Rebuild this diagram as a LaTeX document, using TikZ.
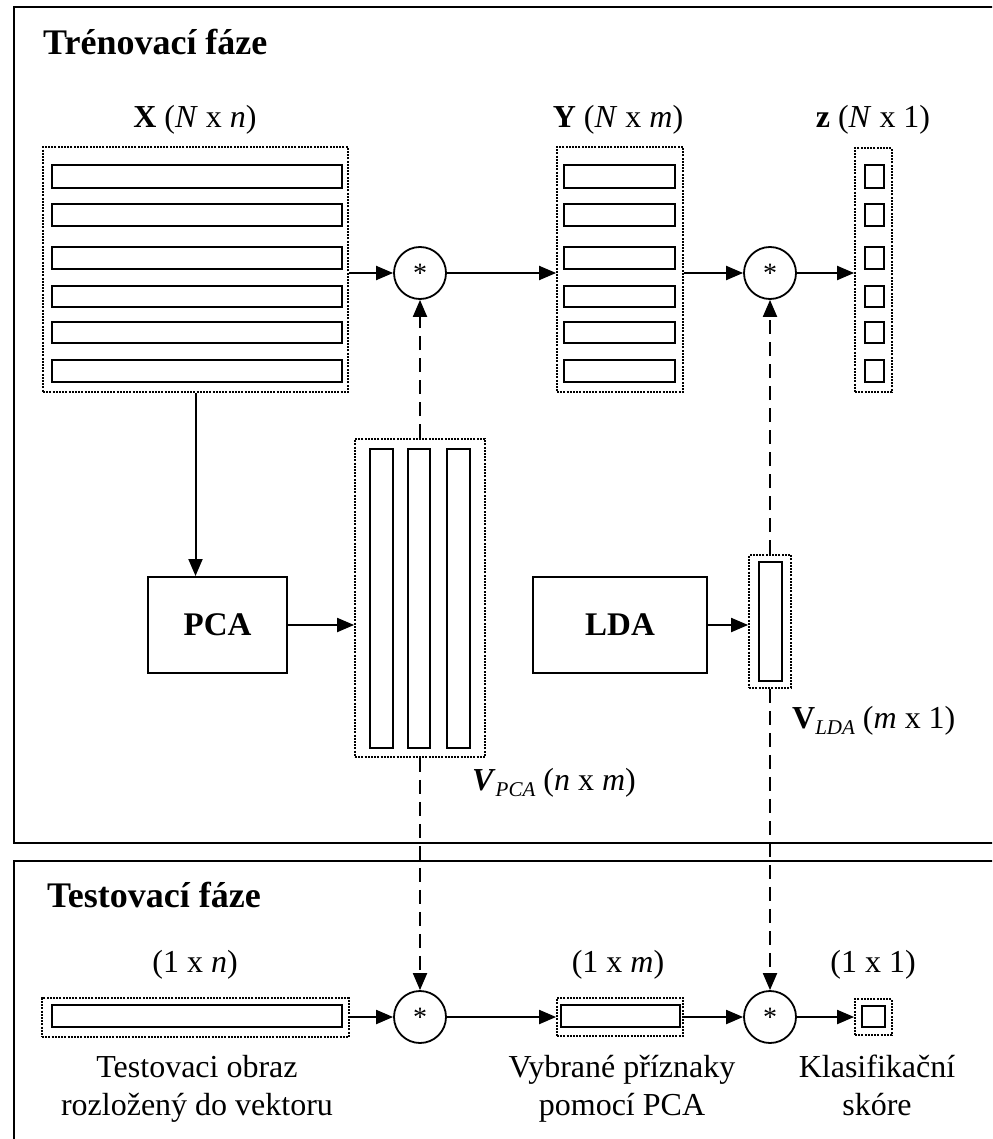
\documentclass[tikz,border=0pt]{standalone}
\usepackage{fontspec}
\setmainfont{Liberation Serif}
\usetikzlibrary{arrows.meta,fit}
\newcommand{\mysubtxt}[1]{\raisebox{-6pt}{\fontsize{21}{21}\selectfont\itshape #1}}
\begin{document}
\begin{tikzpicture}[x=1pt,y=-1pt,
  frame/.style={line width=2.5pt},
  cell/.style={line width=2.4pt},
  mbox/.style={draw, line width=1.8pt, dash pattern=on 2pt off 1.2pt, inner sep=0pt},
  op/.style={draw, circle, line width=1.8pt, minimum size=52pt, inner sep=0pt, font=\fontsize{28}{28}\selectfont},
  proc/.style={draw, line width=2pt, inner sep=0pt},
  proctxt/.style={font=\fontsize{33}{40}\selectfont\bfseries},
  arr/.style={line width=2pt, -{Triangle[length=17pt,width=14pt]}},
  darr/.style={arr, dash pattern=on 14pt off 8pt},
  lab/.style={anchor=base, font=\fontsize{32}{38}\selectfont, inner sep=0pt},
  title/.style={anchor=base west, font=\fontsize{36}{40}\selectfont\bfseries, inner sep=0pt},
  desc/.style={anchor=base, align=center, font=\fontsize{32}{38}\selectfont, inner sep=0pt}
]
\useasboundingbox (0,0) rectangle (992,1139);
\clip (0,0) rectangle (992,1139);

% frames
\draw[frame] (1000,7) -- (14,7) -- (14,843) -- (1000,843);
\draw[frame] (1000,861) -- (14,861) -- (14,1150);

% titles
\node[title] (t1) at (43,55) {Trénovací fáze};
\node[title] (t2) at (47,907) {Testovací fáze};

% X matrix
\node[mbox, fit={(43,147) (348,392)}] (X) {};
\foreach \a/\b in {165/188,204/226,247/269,286/307,322/343,360/382}
  \draw[cell] (52,\a) rectangle (342,\b);
\node[lab] (Xl) at (195,128) {\textbf{X} (\textit{N} x \textit{n})};

% Y matrix
\node[mbox, fit={(557,147) (683,392)}] (Y) {};
\foreach \a/\b in {165/188,204/226,247/269,286/307,322/343,360/382}
  \draw[cell] (564,\a) rectangle (675,\b);
\node[lab] (Yl) at (618,128) {\textbf{Y} (\textit{N} x \textit{m})};

% z vector
\node[mbox, fit={(855,148) (892,392)}] (Z) {};
\foreach \a/\b in {165/188,204/226,247/269,286/307,322/343,360/382}
  \draw[cell] (865,\a) rectangle (884,\b);
\node[lab] (Zl) at (873,128) {\textbf{z} (\textit{N} x 1)};

% operators
\node[op] (c1) at (420,273) {*};
\node[op] (c2) at (770,273) {*};
\node[op] (c3) at (420,1017) {*};
\node[op] (c4) at (770,1017) {*};

% PCA / LDA
\node[proc, fit={(148,577) (287,673)}] (pca) {};
\node[proctxt] (pcat) at (pca.center) {PCA};
\node[proc, fit={(533,577) (707,673)}] (lda) {};
\node[proctxt] (ldat) at (lda.center) {LDA};

% V_PCA
\node[mbox, fit={(355,439) (485,757)}] (vpca) {};
\foreach \a/\b in {370/393,408/430,447/470}
  \draw[cell] (\a,449) rectangle (\b,748);
\node[lab, anchor=base west] (vpcal) at (472,790) {\textbf{\textit{V}}\mysubtxt{PCA} (\textit{n} x \textit{m})};

% V_LDA
\node[mbox, fit={(749,555) (791,688)}] (vlda) {};
\draw[cell] (759,562) rectangle (782,681);
\node[lab, anchor=base west] (vldal) at (792,728) {\textbf{V}\mysubtxt{LDA} (\textit{m} x 1)};

% testing row
\node[mbox, fit={(42,998) (349,1037)}] (t1v) {};
\draw[cell] (52,1005) rectangle (342,1027);
\node[mbox, fit={(557,998) (683,1036)}] (t2v) {};
\draw[cell] (561,1005) rectangle (680,1027);
\node[mbox, fit={(855,999) (892,1035)}] (t3v) {};
\draw[cell] (862,1006) rectangle (885,1027);

\node[lab] (l1) at (195,972) {(1 x \textit{n})};
\node[lab] (l2) at (618,972) {(1 x \textit{m})};
\node[lab] (l3) at (873,972) {(1 x 1)};

\node[desc] (d1) at (197,1115) {Testovaci obraz\\rozložený do vektoru};
\node[desc] (d2) at (622,1115) {Vybrané příznaky\\pomocí PCA};
\node[desc] (d3) at (877,1115) {Klasifikační\\skóre};

% connectors
\draw[arr] (X.east |- c1) -- (c1);
\draw[arr] (c1) -- (Y.west |- c1);
\draw[arr] (Y.east |- c2) -- (c2);
\draw[arr] (c2) -- (Z.west |- c2);
\draw[arr] (X.south) -- (pca.north -| X.south);
\draw[arr] (pca.east) -- (vpca.west |- pca.east);
\draw[arr] (lda.east) -- (vlda.west |- lda.east);
\draw[darr] (vpca.north) -- (c1.south);
\draw[darr] (vlda.north) -- (c2.south);
\draw[darr] (vpca.south) -- (c3.north);
\draw[darr] (vlda.south) -- (c4.north);
\draw[arr] (t1v.east |- c3) -- (c3.west);
\draw[arr] (c3.east) -- (t2v.west |- c3);
\draw[arr] (t2v.east |- c4) -- (c4.west);
\draw[arr] (c4.east) -- (t3v.west |- c4);
\end{tikzpicture}
\end{document}
